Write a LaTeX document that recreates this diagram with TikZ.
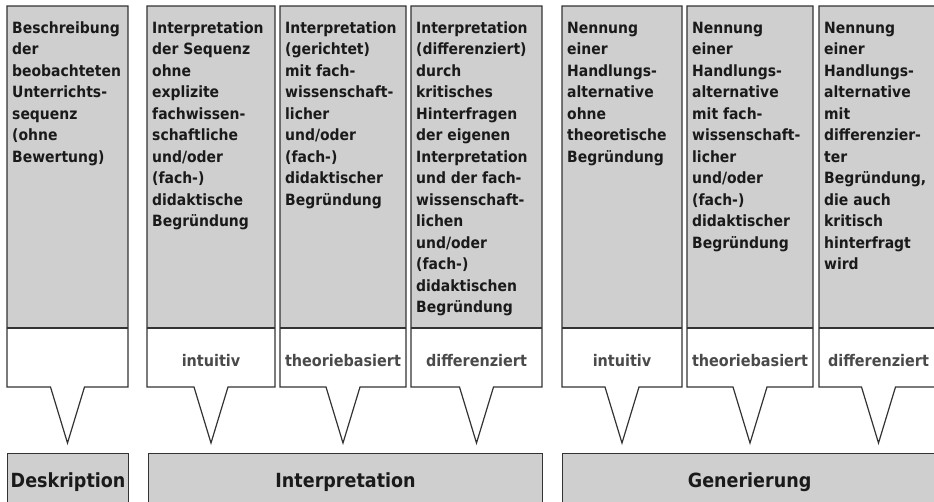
\documentclass[tikz,border=0pt]{standalone}
\usepackage{fontspec}
\setmainfont{DejaVu Sans Condensed}
\definecolor{panel}{HTML}{CFCFCF}
\definecolor{edge}{HTML}{333333}
\definecolor{ink}{HTML}{1A1A1A}
\definecolor{soft}{HTML}{4A4A4A}

% one card: left edge, right edge, node name, description, level label
\newcommand\stagecard[5]{%
  \pgfmathsetmacro\cx{(#1+#2)/2}%
  \fill[white] (#1,6) -- (#2,6) -- (#2,387) -- (\cx+17,387) -- (\cx,443)
    -- (\cx-17,387) -- (#1,387) -- cycle;
  \fill[panel] (#1,6) rectangle (#2,328);
  \draw[boxline] (#1,6) -- (#2,6) -- (#2,387) -- (\cx+17,387) -- (\cx,443)
    -- (\cx-17,387) -- (#1,387) -- cycle;
  \draw[boxline] (#1,328) -- (#2,328);
  \node[bodytext] (#3) at (#1+5,20.5) {\rule{0pt}{12.5pt}#4};
  \node[leveltext] (#3l) at (\cx,366) {#5};
}

\begin{document}
\begin{tikzpicture}[x=1pt,y=-1pt,
  boxline/.style={draw=edge,line width=1.2pt},
  bodytext/.style={font=\fontsize{15.5}{21.5}\selectfont\bfseries, text=ink,
    align=left, inner sep=0pt, anchor=north west},
  leveltext/.style={font=\fontsize{16}{18}\selectfont\bfseries, text=soft,
    inner sep=0pt, anchor=base},
  stage/.style={draw=edge, line width=1.2pt, fill=panel,
    font=\fontsize{19.5}{22}\selectfont\bfseries, text=ink,
    inner sep=0pt, anchor=north west, minimum height=58pt}]
\clip (0,0) rectangle (934,501);
\fill[white] (0,0) rectangle (934,501);

\stagecard{7}{128}{desc}{Beschreibung\\der\\beobachteten\\Unterrichts-\\sequenz\\(ohne\\Bewertung)}{}
\stagecard{147}{275}{ipa}{Interpretation\\der Sequenz\\ohne\\explizite\\fachwissen-\\schaftliche\\und/oder\\(fach-)\\didaktische\\Begründung}{intuitiv}
\stagecard{280}{406}{ipb}{Interpretation\\(gerichtet)\\mit fach-\\wissenschaft-\\licher\\und/oder\\(fach-)\\didaktischer\\Begründung}{theoriebasiert}
\stagecard{411}{542}{ipc}{Interpretation\\(differenziert)\\durch\\kritisches\\Hinterfragen\\der eigenen\\Interpretation\\und der fach-\\wissenschaft-\\lichen\\und/oder\\(fach-)\\didaktischen\\Begründung}{differenziert}
\stagecard{562}{682}{gna}{Nennung\\einer\\Handlungs-\\alternative\\ohne\\theoretische\\Begründung}{intuitiv}
\stagecard{687}{813}{gnb}{Nennung\\einer\\Handlungs-\\alternative\\mit fach-\\wissenschaft-\\licher\\und/oder\\(fach-)\\didaktischer\\Begründung}{theoriebasiert}
\stagecard{819}{938}{gnc}{Nennung\\einer\\Handlungs-\\alternative\\mit\\differenzier-\\ter\\Begründung,\\die auch\\kritisch\\hinterfragt\\wird}{differenziert}

\node[stage, minimum width=121pt] (desk) at (7,453) {Deskription};
\node[stage, minimum width=394pt] (interp) at (148,453) {Interpretation};
\node[stage, minimum width=374pt] (gen) at (562,453) {Generierung};
\end{tikzpicture}
\end{document}
